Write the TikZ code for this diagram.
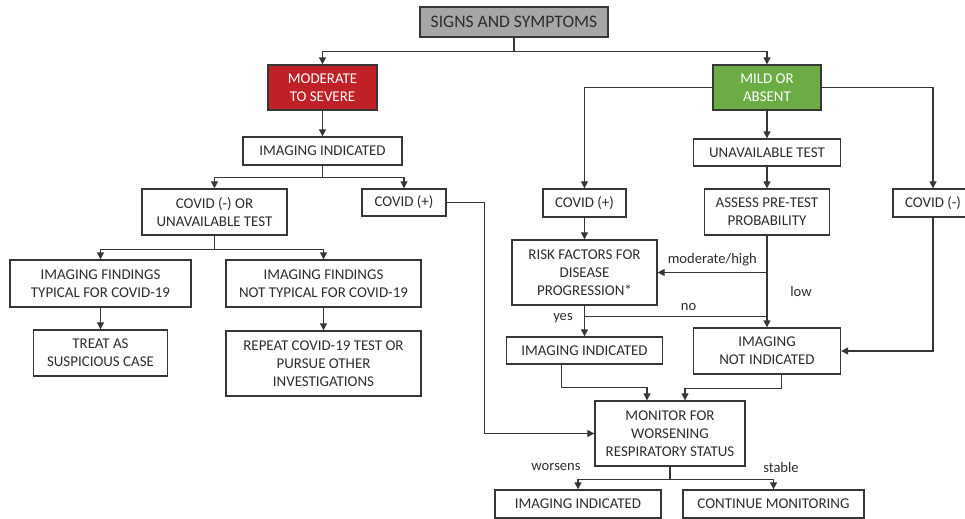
\documentclass[tikz,border=0pt]{standalone}
\usepackage{fontspec}
\setmainfont{Carlito}
\usetikzlibrary{
arrows.meta
}
\definecolor{boxred}{RGB}{192,33,39}
\definecolor{boxgreen}{RGB}{108,172,68}
\definecolor{boxgray}{RGB}{166,166,166}
\definecolor{linegray}{RGB}{55,55,55}
\definecolor{txtgray}{RGB}{45,45,45}

\begin{document}
\begin{tikzpicture}[x=0.02cm, y=-0.02cm, >={Triangle[length=4pt,width=4pt]},
box/.style={draw=linegray, line width=0.75pt, fill=white, align=center, inner sep=0pt, text=txtgray, font=\fontsize{8.5}{10.2}\selectfont},
boxsize/.style 2 args={minimum width=#1*0.02cm, minimum height=#2*0.02cm},
conn/.style={->, draw=linegray, line width=0.7pt},
link/.style={draw=linegray, line width=0.7pt},
lbl/.style={text=txtgray, font=\fontsize{8.3}{10}\selectfont}]

\useasboundingbox (0,0) rectangle (965,519);
\clip (0,0) rectangle (965,519);

% Top
\node[box, boxsize={188}{30}, fill=boxgray, font=\fontsize{10}{12}\selectfont] (signs) at (514,22) {SIGNS AND SYMPTOMS};
\node[box, boxsize={109}{45}, fill=boxred, text=white] (modsev) at (322.5,87.5) {MODERATE\\TO SEVERE};
\node[box, boxsize={108}{45}, fill=boxgreen, text=white] (mild) at (767,87.5) {MILD OR\\ABSENT};

% Moderate to severe branch
\node[box, boxsize={159}{28}] (imgmod) at (322.5,151) {IMAGING INDICATED};
\node[box, boxsize={145}{46}] (negmod) at (214.5,212) {COVID (-) OR\\UNAVAILABLE TEST};
\node[box, boxsize={84}{27}] (posmod) at (404,202.5) {COVID (+)};
\node[box, boxsize={181}{47}] (typical) at (100.5,283.5) {IMAGING FINDINGS\\TYPICAL FOR COVID-19};
\node[box, boxsize={195}{47}] (atypical) at (323.5,283.5) {IMAGING FINDINGS\\NOT TYPICAL FOR COVID-19};
\node[box, boxsize={134}{46}] (treat) at (100.5,353) {TREAT AS\\SUSPICIOUS CASE};
\node[box, boxsize={195}{65}] (retest) at (323.5,363.5) {REPEAT COVID-19 TEST OR\\PURSUE OTHER\\INVESTIGATIONS};

% Mild or absent branch
\node[box, boxsize={147}{27}] (unavail) at (767,152.5) {UNAVAILABLE TEST};
\node[box, boxsize={125}{46}] (pretest) at (767,212) {ASSESS PRE-TEST\\PROBABILITY};
\node[box, boxsize={83}{28}] (posmild) at (584.5,203) {COVID (+)};
\node[box, boxsize={80}{28}] (negmild) at (933,203) {COVID (-)};
\node[box, boxsize={145}{65}] (risk) at (584.5,272.5) {RISK FACTORS FOR\\DISEASE\\PROGRESSION*};
\node[box, boxsize={156}{27}] (imgrisk) at (584.5,350.5) {IMAGING INDICATED};
\node[box, boxsize={147}{46}] (noimg) at (767,351) {IMAGING\\NOT INDICATED};

% Monitoring
\node[box, boxsize={150}{65}] (monitor) at (670,433.5) {MONITOR FOR\\WORSENING\\RESPIRATORY STATUS};
\node[box, boxsize={166}{28}] (imgworse) at (578,504) {IMAGING INDICATED};
\node[box, boxsize={181}{28}] (contmon) at (773.5,504) {CONTINUE MONITORING};

% Connectors
\draw[conn] (signs.south) -- ++(0,14) -| (modsev.north);
\draw[conn] (signs.south) -- ++(0,14) -| (mild.north);
\draw[conn] (modsev) -- (imgmod);
\draw[conn] (imgmod.south) -- ++(0,12) -| (negmod.north);
\draw[conn] (imgmod.south) -- ++(0,12) -| (posmod.north);
\draw[conn] (negmod.south) -- ++(0,14) -| (typical.north);
\draw[conn] (negmod.south) -- ++(0,14) -| (atypical.north);
\draw[conn] (typical) -- (treat);
\draw[conn] (atypical) -- (retest);
\draw[conn] (posmod.east) -- ++(38,0) |- (monitor.west);

\draw[conn] (mild.west) -| (posmild.north);
\draw[conn] (mild.east) -| (negmild.north);
\draw[conn] (mild) -- (unavail);
\draw[conn] (unavail) -- (pretest);
\draw[conn] (posmild) -- (risk);
\draw[conn] (pretest) -- (noimg);
\draw[conn] (pretest.south |- risk.east) -- (risk.east) node[lbl, midway, above] (modlbl) {moderate/high};
\node[lbl] (lowlbl) at (801,291) {low};
\draw[conn] (risk) -- (imgrisk);
\draw[link] (risk.south) ++(0,11) coordinate (nosplit) -- (nosplit -| pretest.south) node[lbl, pos=0.57, above] (nolbl) {no};
\node[lbl] (yeslbl) at (563,318) {yes};
\draw[conn] (negmild.south) |- (noimg.east);

\draw[conn] ([xshift=-0.46cm]imgrisk.south) -- ++(0,23) -| ([xshift=-0.46cm]monitor.north);
\draw[conn] ([xshift=0.29cm]noimg.south) -- ++(0,14) -| ([xshift=0.3cm]monitor.north);
\draw[conn] (monitor.south) -- ++(0,13) -| (imgworse.north);
\draw[conn] (monitor.south) -- ++(0,13) -| (contmon.north);
\node[lbl] (worselbl) at (556,467) {worsens};
\node[lbl] (stablelbl) at (781,467) {stable};

\end{tikzpicture}
\end{document}
